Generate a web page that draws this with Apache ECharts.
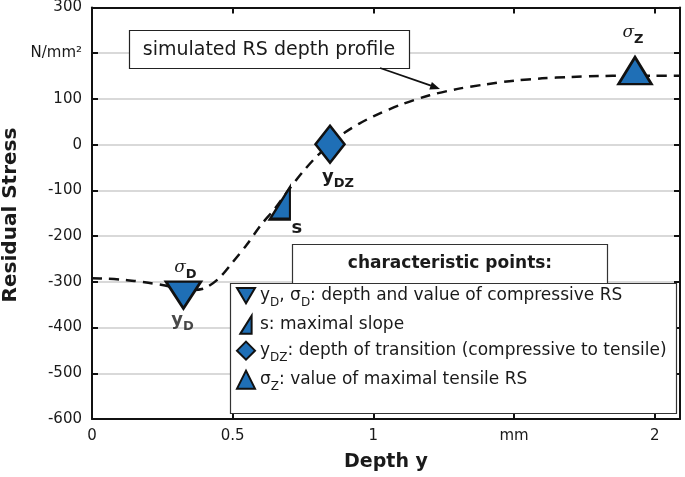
<!DOCTYPE html>
<html><head><meta charset="utf-8">
<script src="https://cdn.jsdelivr.net/npm/echarts@6/dist/echarts.min.js"></script>
<style>html,body{margin:0;padding:0;background:#fff}#c{width:685px;height:477px}</style>
</head><body><div id="c"></div>
<script>
// simulated RS depth profile (Depth y in mm, Residual Stress in N/mm²)
const depth  = [0, 0.05, 0.1, 0.15, 0.2, 0.25, 0.3, 0.35, 0.4, 0.45, 0.5, 0.55, 0.6, 0.65, 0.7, 0.75, 0.8, 0.85, 0.9, 0.95, 1.0, 1.1, 1.2, 1.3, 1.4, 1.5, 1.6, 1.7, 1.8, 1.9, 2.0, 2.09];
const stress = [-292, -293, -295, -298, -302, -307, -313, -318, -314, -293, -257, -219, -176, -140, -98, -59, -25, 2, 27, 46, 62, 88, 108, 122, 132, 140, 145, 148, 150, 151, 151, 151];

// characteristic points
const pointNames  = ['yD', 's', 'yDZ', 'sigmaZ'];
const pointDepth  = [0.325, 0.668, 0.846, 1.93];
const pointStress = [-318, -128, 1, 151];

// tick labels
const xTicks = [0, 0.5, 1, 1.5, 2];
const xTickText = ['0', '0.5', '1', 'mm', '2'];
const yTicks = [-600, -500, -400, -300, -200, -100, 0, 100, 200, 300];
const yTickText = ['-600', '-500', '-400', '-300', '-200', '-100', '0', '100', 'N/mm²', '300'];

const FONT = 'DejaVu Sans';
const BLUE = '#1f6fb6';
const INK = '#1a1a1a';

function tickLabel(ticks, texts) {
  return function (v) {
    for (let i = 0; i < ticks.length; i++) if (Math.abs(ticks[i] - v) < 1e-6) return texts[i];
    return '';
  };
}

const legendText = {
  yD: '{m|y}{s|D}{m|, σ}{s|D}{m|: depth and value of compressive RS}',
  s: '{m|s: maximal slope}',
  yDZ: '{m|y}{s|DZ}{m|: depth of transition (compressive to tensile)}',
  sigmaZ: '{m|σ}{s|Z}{m|: value of maximal tensile RS}'
};

const markRich = {
  b: {fontFamily: FONT, fontWeight: 'bold', fontSize: 18, lineHeight: 26, color: INK, verticalAlign: 'middle'},
  g: {fontFamily: 'DejaVu Serif', fontStyle: 'italic', fontSize: 17, lineHeight: 26, color: INK, verticalAlign: 'middle'},
  sb: {fontFamily: FONT, fontWeight: 'bold', fontSize: 13, lineHeight: 16, color: INK, verticalAlign: 'bottom'}
};

const symbols = {
  yD: {symbol: 'path://M0,0 L20,0 L10,17 Z', size: [35, 27], offset: [0, 5], label: '{g|σ}{sb|D}', lo: [2, -27]},
  s: {symbol: 'path://M0,32 L20,0 L20,32 Z', size: [20, 32], offset: [0, 0], label: '{b|s}', lo: [17, 25]},
  yDZ: {symbol: 'diamond', size: [29, 37], offset: [0, 0], label: '{b|y}{sb|DZ}', lo: [8, 33]},
  sigmaZ: {symbol: 'triangle', size: [33, 27], offset: [0, -5], label: '{g|σ}{sb|Z}', lo: [-2, -38]}
};

const markerSeries = pointNames.map(function (n, i) {
  const s = symbols[n];
  return {
    name: n, type: 'scatter', z: 5,
    symbol: s.symbol, symbolSize: s.size, symbolOffset: s.offset,
    itemStyle: {color: BLUE, borderColor: '#111', borderWidth: 2.6, opacity: 1},
    label: {show: true, position: 'inside', offset: s.lo, formatter: s.label, rich: markRich, color: INK},
    emphasis: {disabled: true},
    data: [[pointDepth[i], pointStress[i]]]
  };
});

// second label for y_D (below the marker)
const extraLabel = {
  name: 'yDlabel', type: 'scatter', z: 6, silent: true,
  symbolSize: 1, itemStyle: {color: 'rgba(0,0,0,0)'},
  label: {show: true, position: 'inside', offset: [-1, 30], formatter: '{b|y}{sb|D}', rich: markRich, color: INK},
  data: [[pointDepth[0], pointStress[0]]]
};

const chart = echarts.init(document.getElementById('c'), null, {renderer: 'canvas'});

function axisCommon() {
  return {
    axisLine: {show: true, onZero: false, lineStyle: {color: '#111', width: 2}},
    axisTick: {show: true, inside: true, length: 6, lineStyle: {color: '#111', width: 2}}
  };
}

chart.setOption({
  animation: false,
  backgroundColor: '#fff',
  grid: {left: 92, right: 5, top: 7, bottom: 58, show: false},
  xAxis: [
    Object.assign({
      type: 'value', position: 'bottom', min: 0, max: 2.09, interval: 0.5,
      splitLine: {show: false},
      axisLabel: {show: true, margin: 10, fontFamily: FONT, fontSize: 15, color: INK, showMaxLabel: false,
                  formatter: tickLabel(xTicks, xTickText)}
    }, axisCommon()),
    Object.assign({
      type: 'value', position: 'top', min: 0, max: 2.09, interval: 0.5,
      splitLine: {show: false}, axisLabel: {show: false}
    }, axisCommon())
  ],
  yAxis: [
    Object.assign({
      type: 'value', position: 'left', min: -600, max: 300, interval: 100,
      splitLine: {show: true, lineStyle: {color: '#d9d9d9', width: 2}},
      axisLabel: {show: true, margin: 10, fontFamily: FONT, fontSize: 15, color: INK,
                  formatter: tickLabel(yTicks, yTickText)}
    }, axisCommon()),
    Object.assign({
      type: 'value', position: 'right', min: -600, max: 300, interval: 100,
      splitLine: {show: false}, axisLabel: {show: false}
    }, axisCommon())
  ],
  legend: {
    show: true, orient: 'vertical', left: 236, top: 287, padding: 0, itemGap: 6,
    itemWidth: 18, itemHeight: 18, z: 20, selectedMode: false,
    data: pointNames,
    formatter: function (name) { return legendText[name]; },
    textStyle: {
      fontFamily: FONT, fontSize: 17, color: INK,
      rich: {
        m: {fontFamily: FONT, fontSize: 17, lineHeight: 26, color: INK, verticalAlign: 'middle'},
        s: {fontFamily: FONT, fontSize: 12, lineHeight: 14, color: INK, verticalAlign: 'bottom'}
      }
    }
  },
  series: [
    {
      name: 'profile', type: 'line', z: 3, smooth: 0.3, symbol: 'none', silent: true,
      lineStyle: {color: '#111', width: 2.5, type: [10, 7]},
      data: depth.map(function (d, i) { return [d, stress[i]]; })
    }
  ].concat(markerSeries, [extraLabel]),
  graphic: {
    elements: [
      {type: 'rect', z: 10, shape: {x: 129.5, y: 30.5, width: 280, height: 38},
       style: {fill: '#fff', stroke: '#222', lineWidth: 1.2}},
      {type: 'text', z: 11, x: 269, y: 50,
       style: {text: 'simulated RS depth profile', font: '19px "DejaVu Sans"', fill: INK, align: 'center', verticalAlign: 'middle'}},
      {type: 'line', z: 11, shape: {x1: 380, y1: 68, x2: 431, y2: 85.7}, style: {stroke: '#111', lineWidth: 1.8}},
      {type: 'polygon', z: 11, shape: {points: [[440, 89], [429.3, 89.5], [431.9, 81.9]]}, style: {fill: '#111'}},
      {type: 'rect', z: 10, shape: {x: 230.5, y: 283.5, width: 446, height: 130},
       style: {fill: '#fff', stroke: '#333', lineWidth: 1.2}},
      {type: 'rect', z: 12, shape: {x: 292.5, y: 244.5, width: 315, height: 39},
       style: {fill: '#fff', stroke: '#333', lineWidth: 1.2}},
      {type: 'text', z: 13, x: 450, y: 264,
       style: {text: 'characteristic points:', font: 'bold 17px "DejaVu Sans"', fill: INK, align: 'center', verticalAlign: 'middle'}},
      {type: 'text', z: 11, x: 386, y: 462,
       style: {text: 'Depth y', font: 'bold 19px "DejaVu Sans"', fill: INK, align: 'center', verticalAlign: 'middle'}},
      {type: 'text', z: 11, x: 11, y: 215, rotation: Math.PI / 2,
       style: {text: 'Residual Stress', font: 'bold 20px "DejaVu Sans"', fill: INK, align: 'center', verticalAlign: 'middle'}}
    ]
  }
});
</script>
</body></html>
